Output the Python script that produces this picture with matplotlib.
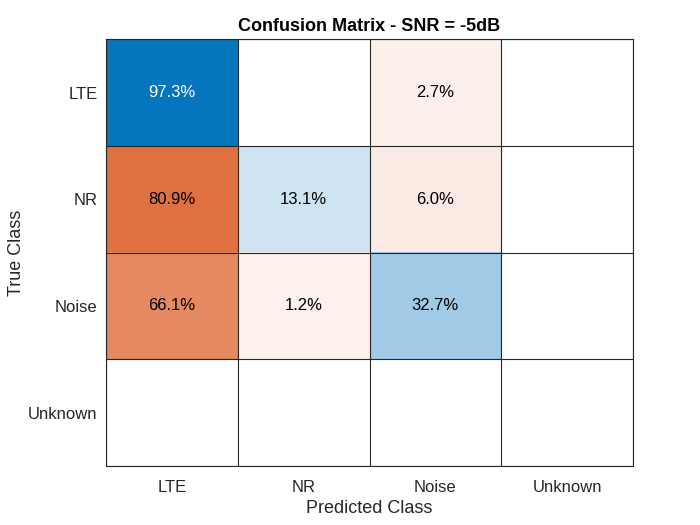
import numpy as np
import matplotlib
matplotlib.use("Agg")
from matplotlib import pyplot as plt
from matplotlib.colors import LinearSegmentedColormap

# Confusion chart, SNR = -5 dB. Percentages per true class (row), NaN = empty cell.
classes = ["LTE", "NR", "Noise", "Unknown"]
row_lte = [97.3, np.nan, 2.7, np.nan]
row_nr = [80.9, 13.1, 6.0, np.nan]
row_noise = [66.1, 1.2, 32.7, np.nan]
row_unknown = [np.nan, np.nan, np.nan, np.nan]

plt.rcParams['font.family'] = ['Liberation Sans', 'DejaVu Sans']

pct = np.array([row_lte, row_nr, row_noise, row_unknown])
n = len(classes)
diag = np.eye(n, dtype=bool)


def tint_map(name, rgb, start=0.065):
    # white-ish tint at 0 % up to the full colour at 100 %
    rgb = np.array(rgb)
    lo = 1 - start * (1 - rgb)
    cm = LinearSegmentedColormap.from_list(name, [tuple(lo), tuple(rgb)])
    cm.set_bad((1, 1, 1, 0))
    return cm


blue = tint_map("blu", (0, 0.447, 0.741))
orange = tint_map("org", (0.85, 0.325, 0.098))

fig = plt.figure(figsize=(7, 5.25), dpi=100)
ax = fig.add_axes([0.1514, 0.1124, 0.753, 0.813])

on_diag = np.ma.masked_where(~diag | np.isnan(pct), pct)
off_diag = np.ma.masked_where(diag | np.isnan(pct), pct)
ax.imshow(on_diag, cmap=blue, vmin=0, vmax=100, aspect='auto')
ax.imshow(off_diag, cmap=orange, vmin=0, vmax=100, aspect='auto')

for i in range(n):
    for j in range(n):
        v = pct[i, j]
        if np.isnan(v):
            continue
        c = 'white' if (diag[i, j] and v > 60) else 'black'
        ax.text(j, i, "%.1f%%" % v, ha='center', va='center', fontsize=12, color=c)

ax.set_xticks(np.arange(n))
ax.set_yticks(np.arange(n))
ax.set_xticklabels(classes)
ax.set_yticklabels(classes)
ax.set_xticks(np.arange(-0.5, n, 1), minor=True)
ax.set_yticks(np.arange(-0.5, n, 1), minor=True)
ax.grid(which='minor', color='#262626', linewidth=0.8)
ax.tick_params(which='both', length=0)
ax.tick_params(axis='both', labelsize=12, colors='#262626')
ax.tick_params(axis='x', pad=10)
ax.tick_params(axis='y', pad=6)
for s in ax.spines.values():
    s.set_color('#262626')
    s.set_linewidth(0.8)

ax.set_xlabel("Predicted Class", fontsize=13, color='#262626', labelpad=4)
ax.set_ylabel("True Class", fontsize=13, color='#262626', labelpad=2)
ax.set_title("Confusion Matrix - SNR = -5dB", fontsize=13, fontweight='bold', pad=6)

fig.savefig("out.png", dpi=100, facecolor='white')
